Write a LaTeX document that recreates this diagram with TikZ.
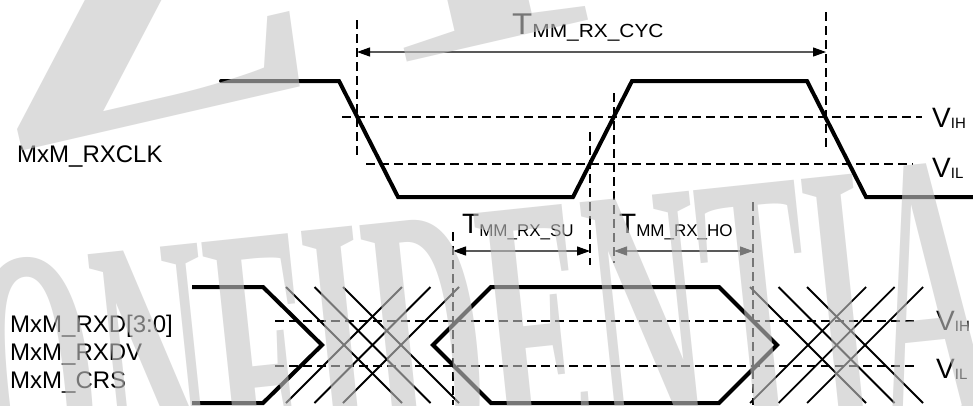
\documentclass[tikz,border=0pt]{standalone}
\usepackage{fontspec}
\setmainfont{Liberation Sans}
\newfontfamily\wmfont{Liberation Serif}
\usetikzlibrary{arrows.meta}
\definecolor{wmgray}{gray}{0.773}
\definecolor{arrgray}{gray}{0.35}
\newcommand\vlab[1]{{\fontsize{28}{28}\selectfont V}{\fontsize{15}{15}\selectfont\raisebox{-1pt}{#1}}}
\newcommand\tlab[4]{{\fontsize{#1}{#1}\selectfont T}{\fontsize{#2}{#2}\selectfont\raisebox{-#3pt}{#4}}}
\begin{document}
\begin{tikzpicture}[x=1pt,y=-1pt,
  sig/.style={line width=4pt, line join=miter, line cap=round},
  thinx/.style={line width=1.8pt},
  dsh/.style={line width=1.8pt, dash pattern=on 9pt off 5pt},
  dim/.style={line width=1.2pt, draw=arrgray,
    {Triangle[length=13pt,width=9pt,color=black]}-{Triangle[length=13pt,width=9pt,color=black]}},
  lbl/.style={inner sep=0pt, anchor=base west, font=\fontsize{24}{24}\selectfont},
  vl/.style={inner sep=0pt, anchor=base west},
  wm/.style={inner sep=0pt, anchor=base west, text=wmgray, text opacity=0.6, font=\wmfont\bfseries},
]
\useasboundingbox (0,0) rectangle (973,405);
\fill[white] (0,0) rectangle (973,405);

% ---------- named reference points ----------
\coordinate (v1t) at (357,20);  \coordinate (v1b) at (357,155);
\coordinate (v2t) at (826,12);  \coordinate (v2b) at (826,147);
\coordinate (v3t) at (590,132); \coordinate (v3b) at (590,265);
\coordinate (v4t) at (614,93);  \coordinate (v4b) at (614,263);
\coordinate (v5t) at (453,232); \coordinate (v5b) at (453,405);
\coordinate (v6t) at (753,202); \coordinate (v6b) at (753,405);
\coordinate (cycL) at (357,52); \coordinate (cycR) at (826,52);
\coordinate (suL) at (453,251); \coordinate (suR) at (590,251);
\coordinate (hoL) at (614,251); \coordinate (hoR) at (753,251);
\coordinate (cihL) at (342,117); \coordinate (cihR) at (922,117);
\coordinate (cilL) at (366,164); \coordinate (cilR) at (913,164);
\coordinate (dihL) at (275,321); \coordinate (dihR) at (918,321);
\coordinate (dilL) at (275,366); \coordinate (dilR) at (918,366);

% ---------- threshold lines ----------
\draw[dsh] (cihL) -- (cihR);
\draw[dsh] (cilL) -- (cilR);
\draw[dsh] (dihL) -- (dihR);
\draw[dsh] (dilL) -- (dilR);

% ---------- vertical timing markers ----------
\foreach \i in {1,...,6} { \draw[dsh] (v\i t) -- (v\i b); }

% ---------- clock ----------
\draw[sig] (221,81) -- (339,81) -- (398,197) -- (573,197) -- (632,81) -- (807,81) -- (866,197) -- (975,197);

% ---------- data bus ----------
\draw[sig, line cap=butt] (192,287) -- (263,287) -- (322,345) -- (263,403) -- (192,403);
\draw[sig] (491,287) -- (719,287) -- (777,345) -- (719,403) -- (491,403) -- (433,345) -- cycle;
\foreach \s in {286,314.5,343,750,778.5,807} {
  \draw[thinx] (\s,287) -- (\s+116,403);
  \draw[thinx] (\s,403) -- (\s+116,287);
}

% ---------- dimension arrows ----------
\draw[dim] (cycL) -- (cycR);
\draw[dim] (suL) -- (suR);
\draw[dim] (hoL) -- (hoR);

% ---------- labels ----------
\node[vl] (tcyc) at (512,34) {\scalebox{1.1}[1]{\tlab{30}{19}{3.5}{MM\_RX\_CYC}}};
\node[vl] (tsu) at (462,233) {\tlab{28}{17}{3}{MM\_RX\_SU}};
\node[vl] (tho) at (619,233) {\tlab{28}{17}{3}{MM\_RX\_HO}};

\node[vl] (cvih) at (932,127) {\vlab{IH}};
\node[vl] (cvil) at (932,177) {\vlab{IL}};
\node[vl] (dvih) at (936,330) {\vlab{IH}};
\node[vl] (dvil) at (936,378) {\vlab{IL}};

\node[lbl] (clk) at (17,162) {MxM\_RXCLK};
\node[lbl] (rxd) at (10,332) {MxM\_RXD[3:0]};
\node[lbl] (rxdv) at (10,360) {MxM\_RXDV};
\node[lbl] (crs) at (10,388) {MxM\_CRS};

% ---------- watermark ----------
\begin{scope}
\clip (0,0) rectangle (973,405);
\node[wm, rotate=13] (wmz) at (-2,157) {\scalebox{1.3}[1]{\fontsize{395}{395}\selectfont ZTE}};
\node[wm, rotate=6] (wmc) at (-125,540) {\scalebox{0.3975}[1]{\fontsize{400}{400}\selectfont CONFIDENTIAL}};
\end{scope}
\end{tikzpicture}
\end{document}
